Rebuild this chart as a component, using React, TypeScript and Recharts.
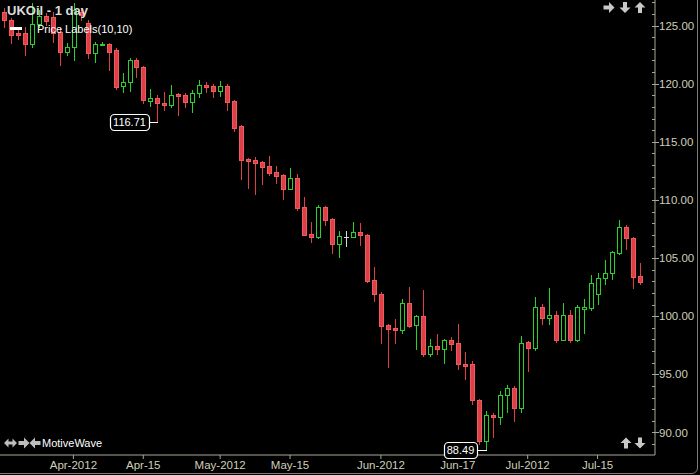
import { ComposedChart, Bar, XAxis, YAxis, ReferenceDot } from "recharts";

const FONT = '"Liberation Sans", Arial, sans-serif';
const AXIS = "#a8a898";
const LABEL = "#cfcfb8";
const RED = "#dc3f45";
const RED_EDGE = "#f05a5e";
const GREEN = "#2ad12a";
const DOJI = "#d8d8d8";

// trading days, UKOil daily
const dates = [
  "2012-03-19", "2012-03-20", "2012-03-21", "2012-03-22", "2012-03-23", "2012-03-26", "2012-03-27", "2012-03-28", "2012-03-29", "2012-03-30",
  "2012-04-02", "2012-04-03", "2012-04-04", "2012-04-05", "2012-04-06", "2012-04-09", "2012-04-10", "2012-04-11", "2012-04-12", "2012-04-13",
  "2012-04-16", "2012-04-17", "2012-04-18", "2012-04-19", "2012-04-20", "2012-04-23", "2012-04-24", "2012-04-25", "2012-04-26", "2012-04-27",
  "2012-04-30", "2012-05-01", "2012-05-02", "2012-05-03", "2012-05-04", "2012-05-07", "2012-05-08", "2012-05-09", "2012-05-10", "2012-05-11",
  "2012-05-14", "2012-05-15", "2012-05-16", "2012-05-17", "2012-05-18", "2012-05-21", "2012-05-22", "2012-05-23", "2012-05-24", "2012-05-25",
  "2012-05-28", "2012-05-29", "2012-05-30", "2012-05-31", "2012-06-01", "2012-06-04", "2012-06-05", "2012-06-06", "2012-06-07", "2012-06-08",
  "2012-06-11", "2012-06-12", "2012-06-13", "2012-06-14", "2012-06-15", "2012-06-18", "2012-06-19", "2012-06-20", "2012-06-21", "2012-06-22",
  "2012-06-25", "2012-06-26", "2012-06-27", "2012-06-28", "2012-06-29", "2012-07-02", "2012-07-03", "2012-07-04", "2012-07-05", "2012-07-06",
  "2012-07-09", "2012-07-10", "2012-07-11", "2012-07-12", "2012-07-13", "2012-07-16", "2012-07-17", "2012-07-18", "2012-07-19", "2012-07-20",
  "2012-07-23", "2012-07-24",
];

const opens = [
  126.15, 125.46, 124.34, 124.34, 123.39, 125.11, 125.8, 125.71, 124.42, 122.7,
  123.13, 126.15, 125.2, 122.61, 123.37, 123.39, 122.87, 119.77, 120.11, 122.01,
  121.4, 118.47, 118.73, 118.3, 118.21, 119.08, 118.99, 118.39, 119.16, 119.85,
  119.77, 119.34, 119.77, 118.47, 116.32, 113.56, 113.47, 113.3, 112.96, 112.44,
  112.18, 110.97, 111.92, 109.42, 107.1, 106.84, 109.42, 108.39, 106.23, 106.84,
  106.84, 107.27, 107.01, 103.13, 101.92, 99.25, 98.99, 98.82, 101.15, 99.25,
  100.03, 96.75, 97.44, 97.18, 97.96, 97.7, 95.89, 95.89, 92.79, 89.25,
  91.49, 91.32, 93.22, 93.82, 92.1, 97.79, 97.27, 100.8, 99.85, 100.11,
  97.96, 100.11, 97.96, 100.63, 100.72, 101.92, 103.3, 103.73, 105.46, 107.7,
  106.75, 103.47,
];

const highs = [
  126.49, 125.63, 124.77, 124.85, 126.92, 126.32, 126.06, 126.15, 124.77, 123.47,
  126.92, 126.49, 125.46, 123.56, 123.56, 123.47, 123.04, 120.89, 122.18, 122.18,
  121.49, 119.51, 118.99, 119.25, 119.85, 119.16, 119.16, 119.42, 120.28, 120.11,
  119.94, 120.2, 119.94, 118.56, 116.41, 113.62, 113.73, 113.39, 113.82, 112.96,
  112.22, 112.78, 112.27, 110.29, 108.13, 109.6, 109.51, 108.47, 107.35, 107.35,
  108.13, 108.04, 107.06, 104.25, 102.1, 99.3, 99.77, 101.49, 102.53, 100.11,
  102.27, 98.04, 98.48, 98.01, 98.22, 99.34, 96.92, 96.15, 92.87, 91.84,
  91.66, 93.56, 94.08, 93.99, 98.3, 97.87, 101.66, 101.06, 102.44, 100.46,
  101.15, 100.54, 100.97, 101.49, 103.56, 103.73, 104.85, 105.58, 108.3, 107.87,
  106.8, 104.6,
];

const lows = [
  124.85, 123.47, 123.82, 122.44, 123.13, 124.85, 125.03, 123.56, 121.58, 122.44,
  122.01, 125.46, 122.18, 121.84, 123.3, 121.15, 119.51, 119.25, 119.34, 120.54,
  118.3, 118.04, 116.71, 117.78, 117.96, 117.27, 117.96, 117.53, 118.82, 119.25,
  118.82, 118.9, 117.7, 115.97, 111.84, 111.06, 110.54, 111.41, 112.18, 111.49,
  110.11, 110.9, 109.16, 106.95, 106.41, 106.75, 107.87, 105.46, 105.11, 106.06,
  106.8, 106.15, 102.96, 101.32, 97.7, 95.63, 97.7, 98.56, 99.08, 97.18,
  96.58, 96.58, 96.75, 95.98, 97.1, 95.46, 94.6, 92.44, 88.99, 88.49,
  89.6, 90.72, 91.75, 90.98, 91.75, 95.29, 97.1, 99.34, 99.34, 97.79,
  97.92, 97.79, 97.87, 98.56, 100.54, 101.06, 102.79, 103.22, 105.37, 105.8,
  102.44, 102.79,
];

const closes = [
  125.46, 124.16, 124.16, 123.39, 125.11, 125.8, 125.37, 124.34, 122.7, 123.13,
  126.32, 125.89, 122.61, 123.39, 123.42, 122.7, 119.68, 120.11, 122.01, 121.4,
  118.56, 118.73, 118.3, 118.21, 118.99, 118.9, 118.39, 119.16, 119.85, 119.68,
  119.34, 119.77, 118.39, 116.23, 113.47, 113.39, 113.22, 112.87, 112.35, 112.09,
  110.97, 111.92, 109.34, 107.01, 106.84, 109.42, 108.3, 106.23, 106.92, 106.84,
  107.27, 107.01, 103.04, 101.92, 99.16, 98.91, 98.82, 101.15, 99.16, 100.03,
  96.75, 97.44, 97.18, 97.96, 97.61, 95.89, 95.72, 92.79, 89.25, 91.49,
  91.32, 93.22, 93.82, 92.1, 97.7, 97.27, 100.8, 99.85, 100.11, 97.96,
  100.11, 97.96, 100.8, 100.8, 102.87, 103.3, 103.73, 105.54, 107.7, 106.75,
  103.39, 102.96,
];

const tickDates = ["2012-04-02", "2012-04-16", "2012-05-01", "2012-05-15", "2012-06-01", "2012-06-18", "2012-07-02", "2012-07-16"];
const tickLabels = ["Apr-2012", "Apr-15", "May-2012", "May-15", "Jun-2012", "Jun-17", "Jul-2012", "Jul-15"];

const majorTicks = [90, 95, 100, 105, 110, 115, 120, 125];
const yTicks: number[] = [];
for (let v = 89; v <= 127; v++) yTicks.push(v);

const labelDates = ["2012-04-18", "2012-06-22"];
const labelValues = [116.71, 88.49];

function Candle(props: any) {
  const { x, y, width, height, payload } = props;
  if (!payload) return null;
  const { open, close, high, low } = payload;
  const k = height / (high - low);
  const yOf = (v: number) => y + (high - v) * k;
  const cx = Math.round(x + width / 2);
  const lx = cx + 0.5;
  const yH = Math.round(yOf(high));
  const yL = Math.round(yOf(low));
  const yT = Math.round(yOf(Math.max(open, close)));
  const yB = Math.round(yOf(Math.min(open, close)));

  if (open === close) {
    return (
      <g>
        <line x1={lx} x2={lx} y1={yH} y2={yL + 1} stroke={DOJI} />
        <line x1={cx - 2} x2={cx + 3} y1={yT + 0.5} y2={yT + 0.5} stroke={DOJI} />
      </g>
    );
  }
  if (close > open) {
    return (
      <g>
        <line x1={lx} x2={lx} y1={yH} y2={yT} stroke={GREEN} />
        <line x1={lx} x2={lx} y1={yB + 1} y2={yL + 1} stroke={GREEN} />
        <rect x={cx - 1.5} y={yT + 0.5} width={4} height={Math.max(yB - yT, 0)} fill="#000" stroke={GREEN} />
      </g>
    );
  }
  return (
    <g>
      <line x1={lx} x2={lx} y1={yH} y2={yL + 1} stroke={RED} />
      <rect x={cx - 1.5} y={yT + 0.5} width={4} height={Math.max(yB - yT, 1)} fill={RED} stroke={RED_EDGE} />
    </g>
  );
}

function YTick(props: any) {
  const { x, y, payload } = props;
  const v = payload.value;
  const major = majorTicks.includes(v);
  const yy = Math.round(y) + 0.5;
  return (
    <g>
      <line x1={x - 3} x2={major ? x + 4 : x} y1={yy} y2={yy} stroke={AXIS} />
      {major && (
        <text x={x + 4} y={y} dy="0.36em" fill={LABEL} fontSize={11.5} fontFamily={FONT}>
          {v.toFixed(2)}
        </text>
      )}
    </g>
  );
}

function PriceTag({ cx, cy, text, w, gap }: any) {
  const right = Math.round(cx) - gap;
  const yy = Math.round(cy) + 0.5;
  return (
    <g>
      <line x1={right} x2={Math.round(cx) + 1} y1={yy} y2={yy} stroke="#fff" />
      <rect x={right - w + 0.5} y={yy - 8} width={w} height={16} rx={4} fill="#000" stroke="#fff" strokeWidth={1.2} />
      <text x={right - w / 2} y={yy} dy="0.36em" textAnchor="middle" fill="#fff" fontSize={11} fontFamily={FONT}>
        {text}
      </text>
    </g>
  );
}

// block arrow pointing up, rotated for other directions
function Arrow({ x, y, rot, fill }: any) {
  const pts = "0,-5.5 5.5,0 2,0 2,5.5 -2,5.5 -2,0 -5.5,0";
  return <polygon points={pts} fill={fill} transform={`translate(${x} ${y}) rotate(${rot})`} />;
}

export default function App() {
  const data = dates.map((d, i) => ({ date: d, open: opens[i], high: highs[i], low: lows[i], close: closes[i] }));

  return (
    <div style={{ position: "absolute", left: 0, top: 0, width: 700, height: 475, background: "#000", overflow: "hidden", fontFamily: FONT }}>
      <ComposedChart width={700} height={475} data={data} margin={{ top: 0, right: 3, bottom: 2, left: 0 }}>
        <XAxis
          dataKey="date"
          ticks={tickDates}
          interval={0}
          tickFormatter={(d: string) => tickLabels[tickDates.indexOf(d)] ?? ""}
          height={18}
          padding={{ left: 0, right: 12 }}
          axisLine={{ stroke: AXIS }}
          tickLine={{ stroke: AXIS }}
          tickSize={4}
          tickMargin={2}
          tick={{ fill: LABEL, fontSize: 11.5, fontFamily: FONT }}
        />
        <YAxis
          orientation="right"
          width={42}
          domain={[88.06, 127.2]}
          allowDataOverflow
          ticks={yTicks}
          interval={0}
          tickSize={0}
          tickMargin={0}
          tickLine={false}
          axisLine={{ stroke: AXIS }}
          tick={(p: any) => <YTick {...p} />}
        />
        <Bar dataKey={(d: any) => [d.low, d.high]} shape={(p: any) => <Candle {...p} />} isAnimationActive={false} />
        {labelDates.map((d, i) => (
          <ReferenceDot
            key={d}
            x={d}
            y={labelValues[i]}
            r={0}
            ifOverflow="visible"
            shape={(p: any) => (
              <PriceTag cx={p.cx} cy={p.cy} text={labelValues[i].toFixed(2)} w={i === 0 ? 39 : 33} gap={i === 0 ? 8 : 9} />
            )}
          />
        ))}
      </ComposedChart>

      <svg width={700} height={475} style={{ position: "absolute", left: 0, top: 0, pointerEvents: "none" }}>
        <text x={7} y={14.5} fill="#dcdcdc" fontSize={13} fontWeight="bold" fontFamily={FONT}>UKOil - 1 day</text>
        <rect x={10} y={27} width={12} height={3} fill="#fff" />
        <text x={37} y={32.5} fill="#fff" fontSize={11} fontFamily={FONT}>Price Labels(10,10)</text>

        {/* top right controls */}
        <Arrow x={609} y={7.5} rot={90} fill="#c8c8c8" />
        <Arrow x={625} y={7.5} rot={180} fill="#c8c8c8" />
        <Arrow x={640} y={7.5} rot={0} fill="#c8c8c8" />

        {/* bottom right controls */}
        <Arrow x={626} y={443} rot={0} fill="#c8c8c8" />
        <Arrow x={640} y={443} rot={180} fill="#c8c8c8" />

        {/* bottom left controls */}
        <polygon points="4,443 8.5,438.5 8.5,441.5 12.5,441.5 12.5,438.5 17,443 12.5,447.5 12.5,444.5 8.5,444.5 8.5,447.5" fill="#bdbdbd" />
        <Arrow x={24} y={443} rot={90} fill="#bdbdbd" />
        <Arrow x={35} y={443} rot={-90} fill="#bdbdbd" />
        <text x={42} y={447} fill="#fff" fontSize={11} fontFamily={FONT}>MotiveWave</text>
      </svg>

      <div style={{ position: "absolute", left: -10, top: -10, width: 708, height: 484, boxSizing: "border-box", border: "1px solid #7c7c7c", borderRadius: 6, pointerEvents: "none" }} />
    </div>
  );
}
